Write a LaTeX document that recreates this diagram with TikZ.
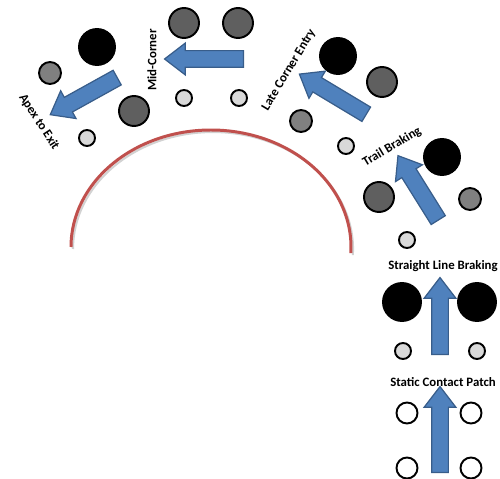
\documentclass[tikz,border=0pt]{standalone}
\usepackage{fontspec}
\setmainfont{Carlito}
\usetikzlibrary{shapes.arrows}
\definecolor{arrowblue}{HTML}{4F81BD}
\definecolor{arrowedge}{HTML}{385D8A}
\definecolor{trackred}{HTML}{C0504D}
\definecolor{loaddark}{HTML}{5F5F5F}
\definecolor{loadmid}{HTML}{808080}
\definecolor{loadlight}{HTML}{D9D9D9}

\begin{document}
\begin{tikzpicture}[x=0.02cm, y=-0.02cm,
  tyre/.style={circle, draw=black, line width=1.1pt, inner sep=0pt},
  tyreheavy/.style={tyre, fill=black, minimum size=0.72cm},
  tyredark/.style={tyre, fill=loaddark, minimum size=0.6cm},
  tyremedium/.style={tyre, fill=loadmid, minimum size=0.44cm},
  tyrelight/.style={tyre, fill=loadlight, minimum size=0.32cm},
  tyrefree/.style={tyre, fill=white, minimum size=0.42cm},
  loadarrow/.style={single arrow, draw=arrowedge, fill=arrowblue, line width=0.7pt,
    inner xsep=0pt, inner ysep=0.155cm, single arrow head extend=0.15cm,
    single arrow tip angle=75},
  stagetext/.style={font=\fontsize{7.3}{8}\selectfont\bfseries, inner sep=0pt}]
\useasboundingbox (0,0) rectangle (500,479);

\draw[gray!35, line width=1.2pt] (73,249) arc[start angle=180, end angle=363, x radius=140, y radius=117];
\draw[trackred, line width=1.7pt] (71,247) arc[start angle=180, end angle=363, x radius=140, y radius=117];

\node[stagetext] (t1) at (443,382) {Static Contact Patch};
\node[tyrefree] (s1fl) at (407,413) {};
\node[tyrefree] (s1fr) at (471,413) {};
\node[tyrefree] (s1rl) at (407,468) {};
\node[tyrefree] (s1rr) at (471,468) {};
\node[loadarrow, minimum height=1.72cm, rotate=90] (a1) at (440,435) {};

\node[stagetext] (t2) at (443,266) {Straight Line Braking};
\node[tyreheavy, minimum size=0.76cm] (s2fl) at (402,302) {};
\node[tyreheavy, minimum size=0.76cm] (s2fr) at (477,302) {};
\node[tyrelight] (s2rl) at (403,351) {};
\node[tyrelight] (s2rr) at (477,351) {};
\node[loadarrow, minimum height=1.54cm, rotate=90] (a2) at (440,321.5) {};

\node[stagetext, rotate=31] (t3) at (392,147) {Trail Braking};
\node[tyreheavy] (s3fr) at (442,157) {};
\node[tyredark] (s3fl) at (379,197) {};
\node[tyremedium] (s3rr) at (470,199) {};
\node[tyrelight] (s3rl) at (407,240) {};
\node[loadarrow, minimum height=1.52cm, rotate=122] (a3) at (421,192.5) {};

\node[stagetext, rotate=59] (t4) at (289,70) {Late Corner Entry};
\node[tyreheavy] (s4fr) at (338,56) {};
\node[tyredark] (s4rr) at (382,82) {};
\node[tyremedium] (s4fl) at (301,121) {};
\node[tyrelight] (s4rl) at (346,146) {};
\node[loadarrow, minimum height=1.56cm, rotate=149] (a4) at (337.5,97) {};

\node[stagetext, rotate=90] (t5) at (152,60) {Mid-Corner};
\node[tyredark] (s5fr) at (184,23) {};
\node[tyredark] (s5rr) at (238,23) {};
\node[tyrelight] (s5fl) at (184,98) {};
\node[tyrelight] (s5rl) at (239,98) {};
\node[loadarrow, minimum height=1.58cm, rotate=180] (a5) at (209.5,59) {};

\node[stagetext, rotate=-57] (t6) at (39,122) {Apex to Exit};
\node[tyreheavy] (s6fr) at (97,47) {};
\node[tyremedium] (s6fl) at (50,73) {};
\node[tyredark] (s6rr) at (134,111) {};
\node[tyrelight] (s6rl) at (87,138) {};
\node[loadarrow, minimum height=1.53cm, rotate=209] (a6) at (88.5,93.5) {};
\end{tikzpicture}
\end{document}
